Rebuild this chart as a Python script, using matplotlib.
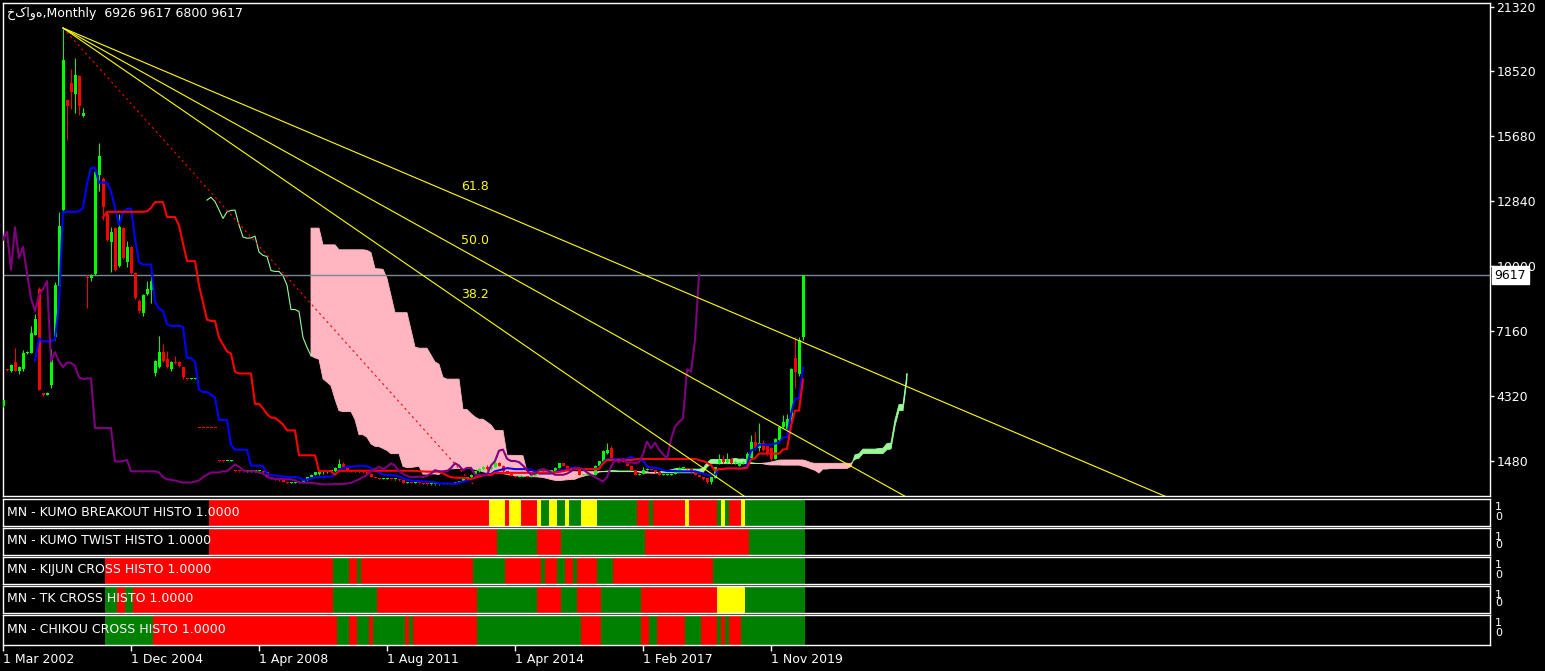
import numpy as np
import pandas as pd
import matplotlib
matplotlib.use('Agg')
import matplotlib.pyplot as plt
import matplotlib.transforms as mtransforms

plt.rcParams['font.family'] = ['DejaVu Sans']
plt.rcParams['font.size'] = 9

title = 'خکاوه,Monthly  6926 9617 6800 9617'

# monthly bars, index 0 = Mar 2002
opens = [
    3900, 5500, 5450, 5800, 5450, 5500, 6200, 6200, 7000, 9000,
    4450, 4400, 4800, 6900, 9150, 12450, 17250, 18000, 17500, 18300,
    16550, 9550, 9480, 9650, 14000, 13800, 12300, 11050, 11650, 10000,
    11650, 10200, 10850, 9700, 8500, 7950, 8800, 8950, 5350, 5600,
    6250, 5950, 5500, 5800, 5800, 5600, 5100, 5080, 5100, 2950,
    2950, 2950, 2950, 2950, 1500, 1500, 1480, 1500, 1080, 1060,
    1060, 1050, 1050, 1050, 1050, 1050, 1000, 800, 700, 680,
    650, 600, 560, 560, 560, 600, 650, 800, 900, 950,
    1000, 1000, 1050, 1050, 1200, 1350, 1250, 1100, 1050, 1050,
    1050, 1000, 950, 800, 750, 720, 720, 720, 700, 700,
    650, 560, 560, 550, 550, 520, 500, 480, 480, 480,
    500, 500, 500, 520, 550, 620, 700, 800, 900, 1050,
    1150, 1250, 1150, 1250, 1400, 1300, 1050, 950, 850, 800,
    800, 820, 800, 850, 950, 1100, 1050, 1050, 1050, 1200,
    1400, 1300, 1100, 1200, 1200, 900, 900, 900, 900, 1300,
    1450, 1850, 2050, 1600, 1500, 1500, 1450, 1300, 1100, 900,
    950, 1100, 1150, 1100, 1000, 900, 900, 900, 950, 1050,
    1200, 1200, 1150, 1000, 900, 800, 750, 600, 750, 1400,
    1600, 1450, 1600, 1400, 1300, 1400, 1450, 1650, 2350, 2050,
    2300, 2150, 2050, 1600, 2400, 3000, 2900, 3300, 6000, 5300,
    6926,
]
highs = [
    4150, 5500, 5750, 6450, 5650, 6350, 6300, 7400, 7900, 9100,
    4450, 4500, 6400, 9300, 12350, 20400, 17300, 18600, 19100, 18350,
    16900, 9600, 9650, 14200, 15400, 13900, 12400, 11700, 11700, 12300,
    11700, 11100, 10900, 9750, 8550, 8800, 9350, 9600, 5900, 6950,
    6600, 6300, 5850, 6100, 5850, 5600, 5100, 5120, 5120, 2950,
    2950, 2950, 2950, 2950, 1500, 1500, 1500, 1560, 1080, 1060,
    1070, 1060, 1060, 1060, 1060, 1060, 1000, 800, 720, 700,
    660, 610, 580, 580, 620, 660, 820, 920, 1020, 1050,
    1050, 1080, 1080, 1250, 1600, 1450, 1260, 1120, 1080, 1070,
    1060, 1010, 960, 820, 760, 740, 740, 730, 720, 710,
    660, 580, 570, 570, 560, 530, 510, 500, 500, 510,
    520, 520, 530, 560, 640, 720, 820, 920, 1080, 1180,
    1280, 1320, 1300, 1500, 1450, 1310, 1060, 960, 860, 830,
    850, 830, 870, 970, 1120, 1110, 1070, 1070, 1220, 1420,
    1410, 1310, 1220, 1220, 1210, 920, 920, 920, 1320, 1520,
    2000, 2300, 2150, 1650, 1550, 1520, 1460, 1310, 1100, 960,
    1250, 1180, 1160, 1110, 1010, 920, 920, 960, 1200, 1220,
    1220, 1210, 1160, 1010, 910, 810, 760, 820, 1250, 1800,
    1750, 1850, 1650, 1500, 1450, 1500, 1900, 2650, 2750, 3150,
    2400, 2200, 2100, 2500, 3050, 3500, 3550, 5550, 6900, 6900,
    9617,
]
lows = [
    3850, 5450, 5400, 5450, 5300, 5450, 6150, 6200, 7000, 4600,
    4350, 4400, 4700, 6800, 9100, 12400, 15500, 16850, 16700, 16600,
    16500, 8200, 9350, 9600, 13300, 12000, 11100, 9750, 9800, 9950,
    10300, 9950, 9650, 8550, 7950, 7850, 8750, 8400, 5200, 5550,
    5800, 5550, 5450, 5750, 5600, 5100, 5050, 5080, 5100, 2930,
    2930, 2930, 2930, 2930, 1470, 1470, 1480, 1500, 1040, 1040,
    1040, 1040, 1040, 1040, 1040, 990, 800, 700, 670, 640,
    590, 550, 550, 550, 550, 590, 640, 790, 880, 900,
    950, 980, 1000, 1040, 1180, 1200, 1080, 1040, 1030, 1030,
    980, 940, 790, 740, 710, 710, 700, 690, 690, 640,
    550, 550, 540, 540, 510, 490, 470, 470, 470, 470,
    490, 490, 490, 510, 540, 610, 690, 780, 880, 1000,
    1100, 1100, 1120, 1240, 1280, 1030, 940, 840, 790, 790,
    790, 790, 790, 840, 940, 1040, 1040, 1040, 1040, 1190,
    1290, 1090, 1090, 1180, 890, 880, 880, 880, 890, 1290,
    1400, 1800, 1580, 1480, 1480, 1440, 1290, 1090, 880, 880,
    940, 1090, 1090, 990, 890, 880, 880, 890, 940, 1040,
    1180, 1140, 990, 890, 790, 690, 550, 500, 740, 1350,
    1400, 1400, 1380, 1380, 1280, 1380, 1430, 1600, 2000, 1950,
    1950, 1750, 1550, 1580, 2380, 2950, 2850, 3250, 4700, 5200,
    6800,
]
closes = [
    4150, 5480, 5700, 5450, 5600, 6200, 6250, 7100, 7700, 4600,
    4400, 4450, 5900, 9200, 11750, 19000, 17000, 17600, 18350, 17000,
    16700, 9480, 9620, 14100, 14800, 12600, 11150, 11500, 9850, 11700,
    10350, 10850, 9700, 8600, 8050, 8750, 9000, 9350, 5850, 6250,
    5850, 5600, 5800, 5780, 5650, 5150, 5080, 5100, 5110, 2940,
    2940, 2940, 2940, 2940, 1480, 1480, 1500, 1550, 1050, 1050,
    1050, 1050, 1050, 1050, 1050, 1000, 800, 700, 680, 650,
    600, 560, 560, 560, 600, 650, 800, 900, 1000, 1000,
    1000, 1050, 1050, 1200, 1350, 1250, 1100, 1050, 1050, 1050,
    1000, 950, 800, 750, 720, 720, 720, 700, 700, 650,
    560, 560, 550, 550, 520, 500, 480, 480, 480, 500,
    500, 500, 520, 550, 620, 700, 800, 900, 1050, 1150,
    1250, 1150, 1250, 1400, 1300, 1050, 950, 850, 800, 800,
    820, 800, 850, 950, 1100, 1050, 1050, 1050, 1200, 1400,
    1300, 1100, 1200, 1200, 900, 900, 900, 900, 1300, 1500,
    1950, 2000, 1600, 1500, 1500, 1450, 1300, 1100, 900, 950,
    1100, 1150, 1100, 1000, 900, 900, 900, 950, 1050, 1200,
    1200, 1150, 1000, 900, 800, 700, 600, 800, 1250, 1550,
    1450, 1600, 1400, 1450, 1400, 1450, 1800, 2350, 2050, 2300,
    2000, 1800, 1600, 2450, 3000, 3200, 3350, 5500, 5400, 6800,
    9617,
]

price_ticks = [1480, 4320, 7160, 10000, 12840, 15680, 18520, 21320]
date_ticks = [0, 32, 64, 96, 128, 160, 192]
date_labels = ['1 Mar 2002', '1 Dec 2004', '1 Apr 2008', '1 Aug 2011',
               '1 Apr 2014', '1 Feb 2017', '1 Nov 2019']
last_price = 9617

# fibonacci fan anchors (bar, price)
fan_p1 = (15, 20400)
fan_p2 = (118, 400)
fan_levels = [0.618, 0.5, 0.382]
fan_labels = ['61.8', '50.0', '38.2']

# histogram panels: start bar of each colour run, R/G/Y codes
histo_names = ['MN - KUMO BREAKOUT HISTO 1.0000', 'MN - KUMO TWIST HISTO 1.0000',
               'MN - KIJUN CROSS HISTO 1.0000', 'MN - TK CROSS HISTO 1.0000',
               'MN - CHIKOU CROSS HISTO 1.0000']
breakout_starts = [52, 122, 126, 127, 130, 134, 135, 137, 139, 141, 142, 145,
                   149, 159, 162, 163, 171, 172, 179, 180, 181, 182, 185, 186]
breakout_codes = 'RYRYRYGYGYGYGRGRYRGYGRYG'
twist_starts = [52, 124, 134, 140, 161, 187]
twist_codes = 'RGRGRG'
kijun_starts = [26, 83, 87, 89, 90, 118, 126, 135, 136, 139, 141, 143, 144, 149, 153, 178]
kijun_codes = 'RGRGRGRGRGRGRGRG'
tk_starts = [26, 29, 31, 33, 83, 94, 119, 134, 140, 144, 150, 160, 179, 186]
tk_codes = 'GRGRGRGRGRGRYG'
chikou_starts = [26, 38, 84, 87, 89, 92, 93, 101, 102, 103, 119, 145, 150, 160,
                 162, 164, 171, 175, 179, 180, 181, 182, 185]
chikou_codes = 'GRGRGRGRGRGRGRGRGRGRGRG'
histo_end = 201

W, H = 1545, 671
fig = plt.figure(figsize=(W / 100, H / 100), dpi=100, facecolor='black')


def px_axes(x0, y0, x1, y1):
    a = fig.add_axes([x0 / W, 1 - y1 / H, (x1 - x0) / W, (y1 - y0) / H])
    a.set_facecolor('black')
    for s in a.spines.values():
        s.set_color('white')
        s.set_linewidth(1)
    a.set_xlim(-0.125, 371.625)
    return a


ax = px_axes(2.5, 2.5, 1489.5, 495.5)
ax.set_ylim(-5, 21512)

o = np.array(opens, dtype=float)
h = np.array(highs, dtype=float)
l = np.array(lows, dtype=float)
c = np.array(closes, dtype=float)
n = len(c)
idx = np.arange(n)

# ichimoku 9/26/52
hs, ls = pd.Series(h), pd.Series(l)
tenkan = ((hs.rolling(9).max() + ls.rolling(9).min()) / 2).values
kijun = ((hs.rolling(26).max() + ls.rolling(26).min()) / 2).values
spanb_raw = ((hs.rolling(52).max() + ls.rolling(52).min()) / 2).values
span_a = np.concatenate([np.full(26, np.nan), (tenkan + kijun) / 2])
span_b = np.concatenate([np.full(26, np.nan), spanb_raw])
xc = np.arange(n + 26)

ok = ~np.isnan(span_a) & ~np.isnan(span_b)
ax.fill_between(xc, span_a, span_b, where=ok & (span_b >= span_a), interpolate=True,
                color='#FFB6C1', lw=0.6, edgecolor='#FFB6C1', zorder=1)
ax.fill_between(xc, span_a, span_b, where=ok & (span_a > span_b), interpolate=True,
                color='#98FB98', lw=0.6, edgecolor='#98FB98', zorder=1)
first_b = np.argmax(~np.isnan(span_b))
only_a = np.where(np.isnan(span_b), span_a, np.nan)
only_a[first_b] = span_a[first_b]
ax.plot(xc, only_a, color='#98FB98', lw=0.8, zorder=1)

ax.axhline(last_price, color='#778899', lw=1, zorder=2)

# candles
col = np.where(c >= o, '#00FF00', '#FF0000')
ax.vlines(idx, l, h, colors=col, lw=0.75, zorder=3)
ax.bar(idx, np.maximum(np.abs(c - o), 45), bottom=np.minimum(o, c), width=0.75,
       color=col, lw=0, zorder=3)

ax.plot(idx, tenkan, color='#0000FF', lw=1.5, zorder=4)
ax.plot(idx, kijun, color='#FF0000', lw=1.5, zorder=4)
ax.plot(idx - 26, c, color='#800080', lw=1.5, zorder=4)

# fib fan
b1, p1 = fan_p1
b2, p2 = fan_p2
ax.plot([b1, b2], [p1, p2], color='#FF0000', lw=0.8, ls=(0, (2, 3)), zorder=5)
for r, lab in zip(fan_levels, fan_labels):
    lp = p2 + r * (p1 - p2)
    slope = (lp - p1) / (b2 - b1)
    ax.plot([b1, 380], [p1, p1 + slope * (380 - b1)], color='#FFFF00', lw=0.8, zorder=5)
    ax.annotate(lab, (b2, lp), xytext=(0, 7.5), textcoords='offset points',
                ha='center', va='bottom', color='#FFFF00', fontsize=9, zorder=6)

ax.set_xticks([])
ax.yaxis.tick_right()
ax.set_yticks(price_ticks)
ax.set_yticklabels([str(v) for v in price_ticks])
ax.tick_params(axis='y', colors='white', length=3, width=1, pad=2, labelsize=9)

trans = mtransforms.blended_transform_factory(ax.transAxes, ax.transData)
ax.text(1.0035, last_price, str(last_price), transform=trans, ha='left', va='center',
        color='black', fontsize=9, zorder=10,
        bbox=dict(facecolor='white', edgecolor='white', pad=1.8))

fig.text(7 / W, 1 - 13 / H, title, color='white', fontsize=9, va='center', ha='left')

# indicator panels
palette = {'R': '#FF0000', 'G': '#008000', 'Y': '#FFFF00'}
panel_runs = [(breakout_starts, breakout_codes), (twist_starts, twist_codes),
              (kijun_starts, kijun_codes), (tk_starts, tk_codes),
              (chikou_starts, chikou_codes)]
panel_px = [(498.5, 525.5), (527.5, 554.5), (556.5, 583.5), (585.5, 612.5), (614.5, 644.5)]

for k, ((starts, codes), (top, bot)) in enumerate(zip(panel_runs, panel_px)):
    pa = px_axes(2.5, top, 1489.5, bot)
    pa.set_ylim(0, 1)
    ends = starts[1:] + [histo_end]
    pa.broken_barh([(s - 0.5, e - s) for s, e in zip(starts, ends)], (0, 1),
                   facecolors=[palette[ch] for ch in codes], lw=0)
    pa.set_yticks([])
    if k < 4:
        pa.set_xticks([])
    else:
        pa.set_xticks(date_ticks)
        pa.set_xticklabels(date_labels)
        pa.tick_params(axis='x', colors='white', length=4, width=1, pad=2, labelsize=9)
        for t in pa.get_xticklabels():
            t.set_ha('left')
    yc = (top + bot) / 2
    fig.text(7 / W, 1 - yc / H, histo_names[k], color='white', fontsize=9,
             va='center', ha='left')
    fig.text(1495 / W, 1 - (top + 9) / H, '1', color='white', fontsize=8,
             va='center', ha='left')
    fig.text(1495 / W, 1 - (top + 18) / H, '0', color='white', fontsize=8,
             va='center', ha='left')

fig.savefig('out.png', dpi=100, facecolor='black')
